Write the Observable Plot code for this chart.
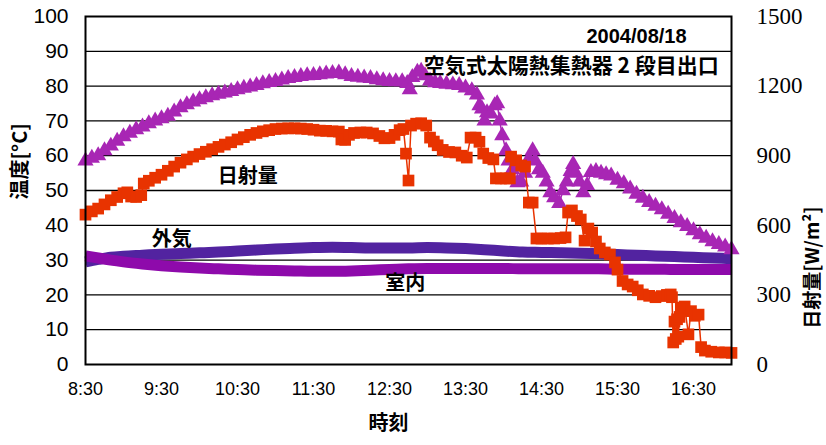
<!DOCTYPE html>
<html>
<head>
<meta charset="utf-8">
<script src="https://cdn.jsdelivr.net/npm/d3@7"></script>
<script src="https://cdn.jsdelivr.net/npm/@observablehq/plot@0.6"></script>
<style>
  body { margin: 0; background: #fff; }
  #chart svg { display: block; }
</style>
</head>
<body>
<div id="chart"></div>
<script>
// Time is counted in minutes after 8:30.
const xTicks = [0, 60, 120, 180, 240, 300, 360, 420, 480];
const xTickLabels = ["8:30", "9:30", "10:30", "11:30", "12:30", "13:30", "14:30", "15:30", "16:30"];
const tempTicks = [0, 10, 20, 30, 40, 50, 60, 70, 80, 90, 100];
const solarTicks = [0, 300, 600, 900, 1200, 1500];

// Air-type solar collector, 2nd stage outlet [°C]
const outletTime = [0,5,10,15,20,25,30,35,40,45,50,55,60,65,70,75,80,85,90,95,100,105,110,115,120,125,130,135,140,145,150,155,160,165,170,175,180,185,190,195,200,205,210,215,220,225,230,235,240,245,250,254,256,258,262,265,268,272,276,280,285,290,295,300,305,309,311,313,315,317,320,323,325,327,329,332,334,337,341,344,347,350,353,355,358,361,364,367,370,374,377,380,383,385,387,390,393,396,399,403,407,411,415,420,425,430,435,440,445,450,455,460,465,470,475,480,485,490,495,500,505,510];
const outletTemp = [58.5,59.3,60,61.5,62.8,64.2,65.5,66.5,67.5,68.3,69.2,70,70.7,71.4,72.6,73.8,74.7,75.5,76.1,76.7,77.3,77.7,78.1,78.5,79,79.4,79.8,80.2,80.7,81.1,81.4,81.8,82.2,82.5,82.8,83,83.1,83.3,83.5,83.7,83.8,83.3,82.8,82.6,82.4,82.2,81.9,81.6,81.4,81.3,81.3,80.8,79,82.5,84,84.3,83,81.5,81,80.8,80.6,80.4,80.2,79.5,78.7,77.5,74.4,73.5,70,72.4,72,74.4,75,70,65.8,61.5,58.5,56,52.3,52.5,55,59,61.5,58.5,56,55,52.5,49.4,48,46.3,50,52.5,55.5,57.5,55,52.5,49.4,51.5,55.2,55.5,55,54.6,54.2,53,52,50.5,49,47.8,46.6,45.5,44.5,43.2,42,40.8,39.7,38.5,37.3,36.3,35.3,34.5,33.8,33];

// Solar radiation [W/m²]
const solarTime = [0,5,10,15,20,25,30,33,36,40,44,46,50,55,60,65,70,75,80,85,90,95,100,105,110,115,120,125,130,135,140,145,150,155,160,165,170,175,180,185,190,195,200,202,205,208,212,217,222,227,232,236,240,244,248,251,253,255,257,261,265,269,272,275,278,282,287,292,297,301,304,308,311,314,318,322,324,328,332,335,336,340,344,347,350,353,356,360,365,370,375,379,381,384,388,391,394,397,400,403,406,410,414,418,420,424,428,432,436,440,445,450,455,459,462,463,464,465,466,467,468,469,470,473,476,478,481,484,486,489,494,500,505,510];
const solarValue = [646,660,672,690,708,722,738,742,724,722,730,780,792,805,818,835,853,870,884,896,907,917,928,938,948,958,970,980,990,998,1005,1010,1015,1017,1018,1018,1017,1015,1012,1008,1007,1005,1004,970,968,990,998,1000,1000,996,985,975,976,990,1010,1015,909,793,1030,1038,1040,1030,978,961,945,925,916,914,900,892,978,978,960,909,890,884,802,802,802,802,896,880,858,853,698,698,543,543,543,543,545,548,655,664,640,625,534,586,569,530,500,483,474,440,409,360,345,336,320,302,296,290,295,300,302,290,95,185,110,195,120,205,245,250,130,230,210,215,75,60,55,52,52,50];

// Outdoor air [°C]
const outdoorTime = [0,10,20,30,45,60,75,90,105,120,135,150,165,180,195,210,225,240,255,270,285,300,315,330,345,360,375,390,405,420,435,450,465,480,495,510];
const outdoorTemp = [29.5,30.2,30.8,31.1,31.4,31.7,31.9,32.1,32.3,32.6,32.9,33.2,33.4,33.6,33.7,33.6,33.5,33.5,33.5,33.6,33.5,33.3,33,32.6,32.3,32.2,32.1,32,31.8,31.6,31.4,31.2,31,30.8,30.6,30.4];

// Indoor air [°C]
const indoorTime = [0,10,20,30,45,60,75,90,105,120,135,150,165,180,195,210,225,240,255,270,285,300,315,330,345,360,375,390,405,420,435,450,465,480,495,510];
const indoorTemp = [31.2,30.6,30,29.5,28.9,28.4,28,27.7,27.5,27.3,27.1,27,26.9,26.8,26.8,26.9,27.1,27.3,27.5,27.6,27.6,27.6,27.6,27.6,27.5,27.5,27.5,27.5,27.5,27.4,27.4,27.4,27.3,27.3,27.3,27.3];

const rows = (t, v) => t.map((m, i) => ({m, v: v[i]}));
const outlet = rows(outletTime, outletTemp);
const solar = rows(solarTime, solarValue);
const outdoor = rows(outdoorTime, outdoorTemp);
const indoor = rows(indoorTime, indoorTemp);

// Secondary axis: solar radiation 0–1500 shares the 0–100 °C frame
const solarScale = d3.scaleLinear().domain([0, 1500]).range([0, 100]);

const jp = "'Noto Sans CJK JP', 'Noto Sans', sans-serif";
const C = {
  outlet: "#a826b4",
  solar: "#e83300",
  outdoor: "#5223a0",
  indoor: "#8e0aab"
};

const chart = Plot.plot({
  width: 826,
  height: 445,
  marginLeft: 85,
  marginRight: 95,
  marginTop: 16,
  marginBottom: 81,
  x: {domain: [0, 510]},
  y: {domain: [0, 100]},
  style: {background: "#fff", color: "#000", overflow: "visible"},
  marks: [
    Plot.ruleY(tempTicks.slice(1, -1), {stroke: "#000", strokeWidth: 1.3}),

    Plot.line(outdoor, {x: "m", y: "v", stroke: C.outdoor, strokeWidth: 11, strokeLinecap: "butt", curve: "monotone-x"}),
    Plot.line(indoor, {x: "m", y: "v", stroke: C.indoor, strokeWidth: 11, strokeLinecap: "butt", curve: "monotone-x"}),

    Plot.line(outlet, {x: "m", y: "v", stroke: C.outlet, strokeWidth: 1.5}),
    Plot.dot(outlet, {x: "m", y: "v", symbol: "triangle", fill: C.outlet, r: 6}),

    Plot.line(solar, {x: "m", y: d => solarScale(d.v), stroke: C.solar, strokeWidth: 1.5}),
    Plot.dot(solar, {x: "m", y: d => solarScale(d.v), symbol: "square", fill: C.solar, r: 6.6}),

    Plot.frame({stroke: "#000", strokeWidth: 2}),

    Plot.axisY(tempTicks, {
      anchor: "left", tickSize: 0, tickPadding: 17, label: null,
      fontSize: 21, fontFamily: "'Liberation Sans', Arial, sans-serif"
    }),
    Plot.axisY(solarTicks.map(solarScale), {
      anchor: "right", tickSize: 0, tickPadding: 25, label: null,
      tickFormat: d => String(Math.round(solarScale.invert(d))),
      fontSize: 23, fontFamily: "'Liberation Serif', 'Times New Roman', serif"
    }),
    Plot.axisX(xTicks, {
      anchor: "bottom", tickSize: 0, tickPadding: 18, label: null,
      tickFormat: d => xTickLabels[xTicks.indexOf(d)],
      fontSize: 18, fontFamily: "'Liberation Sans', Arial, sans-serif"
    }),

    // axis titles
    Plot.text(["温度[°C]"], {text: d => d, frameAnchor: "left", dx: -65, dy: 9, rotate: -90,
      fontSize: 20, fontWeight: "bold", fontFamily: jp}),
    Plot.text(["日射量[W/m²]"], {text: d => d, frameAnchor: "right", dx: 81, dy: 16, rotate: -90,
      fontSize: 19, fontWeight: "bold", fontFamily: jp}),
    Plot.text(["時刻"], {text: d => d, frameAnchor: "bottom", dx: -20, dy: 65,
      fontSize: 20, fontWeight: "bold", fontFamily: jp}),

    // series labels
    Plot.text(["日射量"], {text: d => d, x: 128, y: 54, fontSize: 20, fontWeight: "bold", fontFamily: jp}),
    Plot.text(["外気"], {text: d => d, x: 68, y: 35.9, fontSize: 20, fontWeight: "bold", fontFamily: jp}),
    Plot.text(["室内"], {text: d => d, x: 252.5, y: 23.3, fontSize: 20, fontWeight: "bold", fontFamily: jp}),
    Plot.text(["2004/08/18"], {text: d => d, x: 435, y: 94.1, fontSize: 20, fontWeight: "bold",
      fontFamily: "'Liberation Sans', Arial, sans-serif"}),
    Plot.text(["空気式太陽熱集熱器 2 段目出口"], {text: d => d, x: 383.5, y: 85.6, fontSize: 21,
      fontWeight: "bold", fontFamily: jp})
  ]
});

document.getElementById("chart").append(chart);
</script>
</body>
</html>
